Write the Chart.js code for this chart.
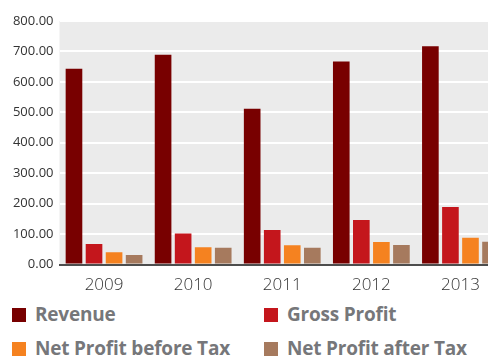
<!DOCTYPE html>
<html>
<head>
<meta charset="utf-8">
<script src="https://cdn.jsdelivr.net/npm/chart.js@4"></script>
<style>
  html, body { margin: 0; padding: 0; background: #fff; overflow: hidden; }
  #wrap { position: relative; width: 488px; height: 357px; overflow: hidden; }
  #box { position: absolute; left: 0; top: 0; width: 505px; height: 300px; }
  #legend { position: absolute; left: 0; top: 303px; width: 488px; }
  .lg-item { position: absolute; font-family: "Open Sans", sans-serif; font-weight: 700;
             font-size: 19px; color: #76777a; white-space: nowrap; line-height: 22px; }
  .lg-item span.sq { position: absolute; left: 0; top: 5px; width: 14px; height: 14px; }
  .lg-item span.tx { position: absolute; left: 23px; top: 0; letter-spacing: -0.2px; }
</style>
</head>
<body>
<div id="wrap">
  <div id="box"><canvas id="finChart"></canvas></div>
  <div id="legend"></div>
</div>
<script>
// saal (categories)
const years = ['2009', '2010', '2011', '2012', '2013'];

// values
const revenue       = [643, 689, 512, 667, 717];
const grossProfit   = [67, 102, 113, 146, 189];
const netBeforeTax  = [40, 57, 63, 74, 88];
const netAfterTax   = [31, 55, 55, 64, 75];

// y axis ticks
const yTicks = [0, 100, 200, 300, 400, 500, 600, 700, 800];

const seriesLabels = ['Revenue', 'Gross Profit', 'Net Profit before Tax', 'Net Profit after Tax'];
const seriesColors = ['#780000', '#c4161c', '#f58220', '#a67a5e'];
const seriesData   = [revenue, grossProfit, netBeforeTax, netAfterTax];

// plot ka grey background
const plotBg = {
    id: 'plotBg',
    beforeDraw(chart) {
        const { ctx, chartArea: a } = chart;
        ctx.save();
        ctx.fillStyle = '#ebebeb';
        ctx.fillRect(a.left, a.top, a.right - a.left, a.bottom - a.top);
        ctx.restore();
    }
};

const ctx = document.getElementById('finChart').getContext('2d');
const chart = new Chart(ctx, {
    type: 'bar',
    data: {
        labels: years,
        datasets: seriesLabels.map((lbl, i) => ({
            label: lbl,
            data: seriesData[i],
            backgroundColor: seriesColors[i],
            categoryPercentage: 0.9,
            barPercentage: 0.83
        }))
    },
    options: {
        responsive: true,
        maintainAspectRatio: false,
        animation: false,
        layout: { padding: { top: 21, left: 0, right: 0, bottom: 0 } },
        plugins: { legend: { display: false }, tooltip: { enabled: false } },
        scales: {
            x: {
                grid: { display: false, drawTicks: false },
                border: { display: true, color: '#4d4d4d', width: 2 },
                ticks: { color: '#333', padding: 10, font: { family: 'Open Sans', size: 17, weight: 300 } },
                afterFit(s) { s.height = 35.5; }
            },
            y: {
                min: 0,
                max: yTicks[yTicks.length - 1],
                afterBuildTicks(s) { s.ticks = yTicks.map(v => ({ value: v })); },
                grid: { color: '#ffffff', lineWidth: 2, drawTicks: false },
                border: { display: false },
                ticks: {
                    color: '#333',
                    padding: 6,
                    font: { family: 'Open Sans', size: 13 },
                    callback: v => Number(v).toFixed(2)
                },
                afterFit(s) { s.width = 59.5; }
            }
        }
    },
    plugins: [plotBg]
});

// legend 2 columns mein, HTML se
const legendPos = [[12, 0], [264, 0], [12, 34], [264, 34]];
document.getElementById('legend').innerHTML = chart.data.datasets.map((d, i) =>
    `<div class="lg-item" style="left:${legendPos[i][0]}px;top:${legendPos[i][1]}px">
        <span class="sq" style="background:${d.backgroundColor}"></span>
        <span class="tx">${d.label}</span>
     </div>`).join('');
</script>
</body>
</html>
